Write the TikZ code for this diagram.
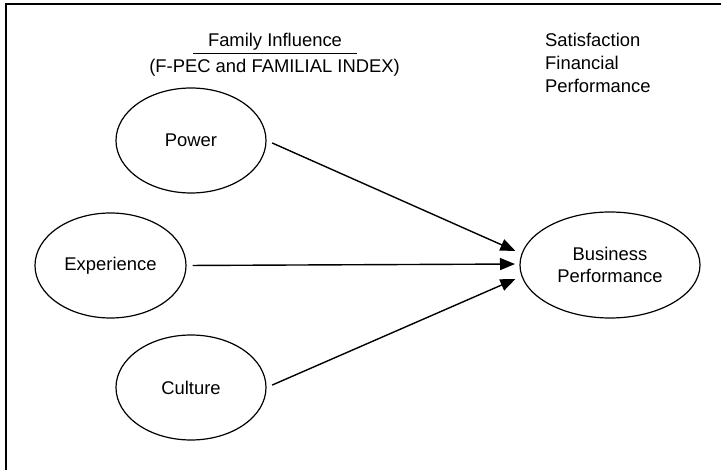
\documentclass[tikz,border=0pt]{standalone}
\usepackage{fontspec}
\setmainfont{Liberation Sans}
\usetikzlibrary{arrows.meta,shapes.geometric}
\begin{document}
\begin{tikzpicture}[x=1pt,y=-1pt,
  ell/.style={draw, line width=1.2pt, ellipse, minimum width=150pt, minimum height=105pt, inner sep=0pt, align=center, font=\fontsize{18.4}{22.5}\selectfont},
  lbl/.style={inner sep=0pt, font=\fontsize{18.4}{23}\selectfont},
  arr/.style={line width=1.4pt, -{Triangle[length=15pt,width=12pt]}, shorten <=6pt, shorten >=5pt}]
\useasboundingbox (0,0) rectangle (721,470);
\draw[line width=2.2pt] (6,470) -- (6,4) -- (721,4);
\node[ell] (power) at (191,140.5) {Power};
\node[ell, minimum width=151pt] (exp) at (110.5,265.5) {Experience};
\node[ell] (cult) at (191,387.5) {Culture};
\node[ell, minimum width=180pt, minimum height=106pt] (bp) at (610,265) {Business\\Performance};
\node[lbl, anchor=base] (fi) at (275,47) {Family Influence};
\node[lbl, anchor=base east] (fpec) at (400,73) {(F-PEC and FAMILIAL INDEX)};
\coordinate (ul1) at (193,53);
\coordinate (ul2) at (357,53);
\draw[line width=0.9pt] (ul1) -- (ul2);
\node[lbl, anchor=base west] (sat) at (545,47) {Satisfaction};
\node[lbl, anchor=base west] (fin) at (545,70) {Financial};
\node[lbl, anchor=base west] (perf) at (545,93) {Performance};
\coordinate (bp1) at (520,253);
\coordinate (bp2) at (520,264);
\coordinate (bp3) at (520,277);
\draw[arr] (power.east) -- (bp1);
\draw[arr] (exp.east) -- (bp2);
\draw[arr] (cult.east) -- (bp3);
\end{tikzpicture}
\end{document}
